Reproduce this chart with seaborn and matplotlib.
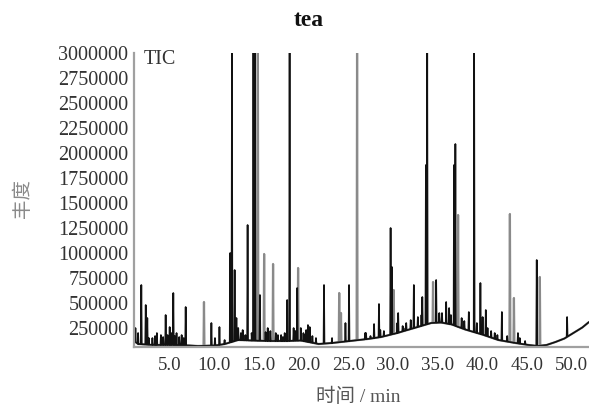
import numpy as np
import pandas as pd
import matplotlib
matplotlib.use("Agg")
import matplotlib.pyplot as plt
import matplotlib.transforms as mtransforms
import seaborn as sns

# ---------------- data ----------------
title = "tea"
x_label = "时间 / min"
y_label = "丰度"
trace_label = "TIC"
x_ticks = [5.0, 10.0, 15.0, 20.0, 25.0, 30.0, 35.0, 40.0, 45.0, 50.0]
y_ticks = [250000, 500000, 750000, 1000000, 1250000, 1500000, 1750000,
           2000000, 2250000, 2500000, 2750000, 3000000]

# baseline of the chromatogram (time min, abundance)
base_t = [0.85, 1.3, 3.0, 5.0, 7.0, 8.0, 10.0, 11.0, 12.5, 14.0, 16.0, 18.0,
          19.5, 21.5, 23.0, 25.0, 27.0, 28.5, 30.3, 32.2, 34.1, 35.2, 36.4,
          37.9, 39.8, 41.6, 43.5, 45.0, 46.0, 47.0, 48.0, 49.0, 50.0, 51.0,
          51.75]
base_v = [120000, 90000, 80000, 80000, 75000, 70000, 75000, 90000, 130000,
          125000, 120000, 120000, 125000, 90000, 100000, 120000, 140000,
          160000, 200000, 250000, 300000, 305000, 285000, 235000, 185000,
          130000, 100000, 80000, 70000, 80000, 110000, 145000, 200000, 255000,
          310000]

# peaks drawn in black (retention time, apex abundance)
black_t = [1.0, 1.3, 1.66, 2.15, 2.33, 2.5, 2.9, 3.2, 3.4, 3.85, 4.1, 4.38,
           4.6, 4.83, 5.0, 5.24, 5.4, 5.6, 5.9, 6.17, 6.4, 6.62, 9.5, 9.9,
           10.4, 10.98, 11.6, 11.8, 12.1, 12.3, 12.5, 12.8, 13.0, 13.3, 13.55,
           14.0, 14.2, 14.4, 14.93, 15.56, 15.8, 16.1, 16.7, 16.94, 17.3, 17.5,
           17.7, 17.98, 18.25, 18.7, 18.9, 19.1, 19.5, 19.8, 19.93, 20.1, 20.3,
           20.5, 20.8, 21.2, 22.1, 23.0, 24.5, 24.9, 26.7, 26.8, 27.3, 27.7,
           28.25, 28.4, 28.8, 29.55, 29.7, 30.3, 30.4, 30.9, 31.0, 31.3, 31.8,
           32.15, 32.6, 33.0, 33.1, 33.5, 33.65, 34.65, 35.0, 35.3, 35.77,
           36.1, 36.3, 36.65, 36.8, 37.5, 37.8, 38.3, 38.9, 39.2, 39.6, 39.85,
           40.2, 40.4, 40.8, 41.2, 41.5, 42.0, 42.6, 43.8, 44.0, 44.6, 45.9,
           49.3]
black_v = [250000, 200000, 680000, 480000, 350000, 150000, 150000, 170000,
           200000, 180000, 160000, 380000, 180000, 260000, 200000, 600000,
           170000, 200000, 160000, 180000, 150000, 460000, 300000, 150000,
           260000, 130000, 1000000, 3000000, 830000, 350000, 250000, 200000,
           230000, 180000, 1280000, 200000, 3000000, 3000000, 580000, 210000,
           250000, 220000, 200000, 180000, 180000, 160000, 200000, 530000,
           3000000, 250000, 220000, 650000, 250000, 200000, 180000, 230000,
           280000, 260000, 170000, 150000, 680000, 150000, 300000, 680000,
           200000, 200000, 170000, 290000, 490000, 230000, 220000, 1250000,
           860000, 300000, 400000, 270000, 250000, 300000, 330000, 680000,
           360000, 380000, 560000, 1880000, 3000000, 730000, 400000, 400000,
           510000, 450000, 380000, 1880000, 2090000, 350000, 320000, 410000,
           3000000, 300000, 700000, 360000, 430000, 250000, 220000, 200000,
           180000, 410000, 170000, 200000, 150000, 120000, 930000, 360000]

# peaks drawn in grey (retention time, apex abundance)
grey_t = [8.67, 14.7, 15.4, 16.4, 19.2, 23.8, 24.0, 25.8, 29.9, 34.3, 37.1,
          42.9, 43.35, 46.25]
grey_v = [510000, 3000000, 990000, 890000, 850000, 600000, 400000, 3000000,
          630000, 710000, 1380000, 1390000, 550000, 760000]


def build(peak_t, peak_v, half_width=0.05):
    """Vertices of the trace: baseline knots plus a narrow spike per peak."""
    bt = np.asarray(base_t)
    bv = np.asarray(base_v)
    ts = list(base_t)
    vs = list(base_v)
    for t, v in zip(peak_t, peak_v):
        for tt in (t - half_width, t + half_width):
            ts.append(tt)
            vs.append(float(np.interp(tt, bt, bv)))
        ts.append(t)
        vs.append(v)
    df = pd.DataFrame({"time": ts, "abundance": vs}).sort_values("time")
    return df.reset_index(drop=True)


black_df = build(black_t, black_v)
grey_df = build(grey_t, grey_v)

# ---------------- drawing ----------------
sns.set_theme(style="white")
plt.rcParams["font.family"] = ["Liberation Serif", "Noto Sans CJK SC", "DejaVu Sans"]

fig = plt.figure(figsize=(5.89, 4.09), dpi=100)
ax = fig.add_axes([134 / 589, 62 / 409, 455 / 589, 294 / 409])

sns.lineplot(data=grey_df, x="time", y="abundance", ax=ax, color="#8a8a8a",
             linewidth=1.6, estimator=None, sort=False)
sns.lineplot(data=black_df, x="time", y="abundance", ax=ax, color="#111111",
             linewidth=1.2, estimator=None, sort=False)

ax.set_xlim(0.84, 51.75)
ax.set_ylim(60000, 3000000)
ax.set_xticks(x_ticks)
ax.set_xticklabels([f"{v:.1f}" for v in x_ticks])
ax.set_yticks(y_ticks)
ax.set_yticklabels([str(v) for v in y_ticks])

for side in ("top", "right"):
    ax.spines[side].set_visible(False)
for side in ("left", "bottom"):
    ax.spines[side].set_color("#a0a0a0")
    ax.spines[side].set_linewidth(1.6)

ax.tick_params(axis="both", direction="in", length=5, width=1.2,
               color="#8a8a8a", labelcolor="#333333")
ax.tick_params(axis="y", pad=4, labelsize=14.5)
ax.tick_params(axis="x", pad=7, labelsize=13.6)
shift = mtransforms.ScaledTranslation(-1.5 / 100, 0, fig.dpi_scale_trans)
for lab in ax.get_xticklabels():
    lab.set_transform(lab.get_transform() + shift)

ax.set_xlabel("")
ax.set_ylabel("")
fig.text(358 / 589, 1 - 397 / 409, x_label, ha="center", va="center",
         fontsize=14, color="#555555")
fig.text(23 / 589, 1 - 198 / 409, y_label, ha="center", va="center",
         rotation=90, fontsize=14, color="#8a8a8a")
fig.text(309 / 589, 1 - 21 / 409, title, ha="center", va="center",
         fontsize=17, fontweight="bold", color="#111111")
ax.text(1.9, 2940000, trace_label, ha="left", va="center", fontsize=14.5,
        color="#333333")

fig.savefig("out.png", dpi=100)
